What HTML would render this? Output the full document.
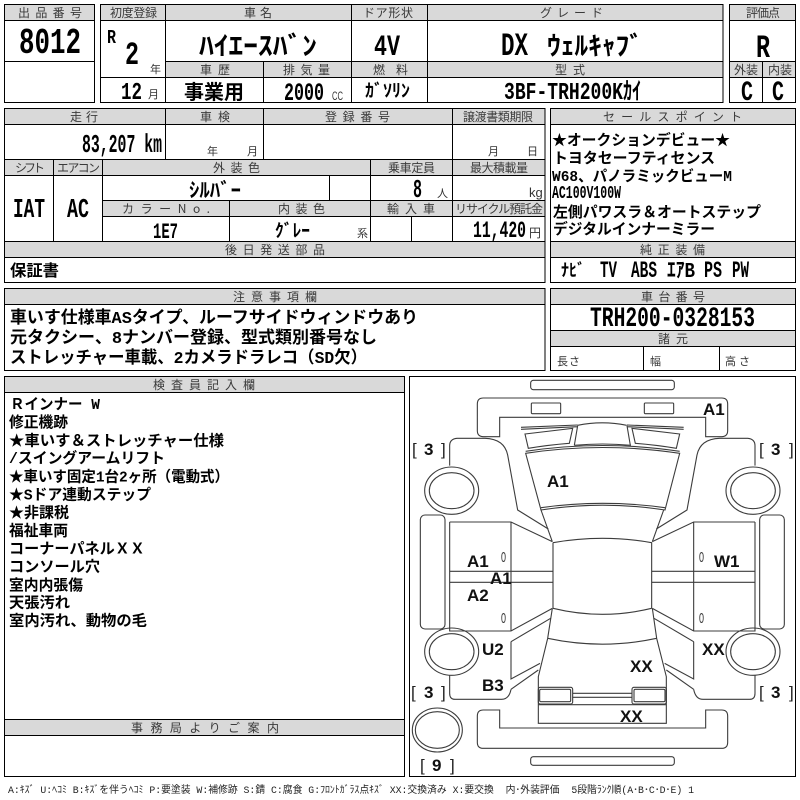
<!DOCTYPE html>
<html lang="ja"><head><meta charset="utf-8"><title>Auction sheet</title>
<style>
html,body{margin:0;padding:0;background:#fff;width:800px;height:800px;overflow:hidden}
svg{display:block}
text{white-space:pre}
.h{font:400 12px "Noto Sans CJK JP","Liberation Sans",sans-serif;fill:#3a3a3a}
.s{font:400 11px "Noto Sans CJK JP","Liberation Sans",sans-serif;fill:#333}
.v{font-family:"Liberation Mono","Noto Sans CJK JP",monospace;font-weight:700;fill:#000}
.k{font-family:"Noto Sans CJK JP","Liberation Sans",sans-serif;font-weight:700;fill:#000}
.t{font-family:"Liberation Mono","Noto Sans CJK JP",monospace;font-weight:700;fill:#000}
.d{font:700 17px "Liberation Sans",sans-serif;fill:#111}
.b{font:400 17px "Liberation Sans",sans-serif;fill:#222}
.f{font:400 10px "Liberation Mono","Noto Sans CJK JP",monospace;fill:#222}
.l{fill:none;stroke:#000;stroke-width:1;shape-rendering:crispEdges}
.g{fill:#d9d9d9;shape-rendering:crispEdges}
.c{fill:none;stroke:#3c3c3c;stroke-width:3.3}
</style></head><body>
<svg width="800" height="800" viewBox="0 0 800 800" xmlns="http://www.w3.org/2000/svg">
<rect width="800" height="800" fill="#fff"/>
<g class="g">
<rect x="5" y="5" width="89" height="15"/><rect x="101" y="5" width="622" height="15"/><rect x="730" y="5" width="65" height="15"/>
<rect x="165" y="61" width="558" height="16"/><rect x="730" y="61" width="65" height="16"/>
<rect x="5" y="109" width="540" height="15"/><rect x="5" y="159" width="540" height="16"/><rect x="551" y="109" width="244" height="15"/>
<rect x="102" y="200" width="443" height="16"/><rect x="5" y="241" width="540" height="16"/><rect x="551" y="241" width="244" height="16"/>
<rect x="5" y="289" width="540" height="15"/><rect x="551" y="289" width="244" height="15"/><rect x="551" y="330" width="244" height="16"/>
<rect x="5" y="377" width="399" height="15"/><rect x="5" y="719" width="399" height="16"/>
</g>
<g class="l">
<rect x="4.5" y="4.5" width="90" height="98"/><path d="M4.5 20.5H94.5M4.5 61.5H94.5"/>
<rect x="100.5" y="4.5" width="622.5" height="98"/>
<path d="M100.5 20.5H723M165.5 4.5V102.5M351.5 4.5V102.5M427.5 4.5V102.5M263.5 61.5V102.5M165.5 61.5H723M100.5 77.5H723"/>
<rect x="729.5" y="4.5" width="66" height="98"/><path d="M729.5 20.5H795.5M729.5 61.5H795.5M729.5 77.5H795.5M762.5 61.5V102.5"/>
<rect x="4.5" y="108.5" width="540.5" height="174"/>
<path d="M4.5 124.5H545M165.5 108.5V159.5M263.5 108.5V159.5M452.5 108.5V241.5M4.5 159.5H545M4.5 175.5H545M53.5 159.5V241.5M102.5 159.5V241.5M370.5 159.5V241.5M329.5 175.5V200.5M102.5 200.5H545M102.5 216.5H545M229.5 200.5V241.5M411.5 216.5V241.5M4.5 241.5H545M4.5 257.5H545"/>
<rect x="550.5" y="108.5" width="245" height="174"/><path d="M550.5 124.5H795.5M550.5 241.5H795.5M550.5 257.5H795.5"/>
<rect x="4.5" y="288.5" width="540.5" height="82"/><path d="M4.5 304.5H545"/>
<rect x="550.5" y="288.5" width="245" height="82"/><path d="M550.5 304.5H795.5M550.5 330.5H795.5M550.5 346.5H795.5M643.5 346.5V370.5M719.5 346.5V370.5"/>
<rect x="4.5" y="376.5" width="400" height="400"/><path d="M4.5 392.5H404.5M4.5 719.5H404.5M4.5 735.5H404.5"/>
<rect x="409.5" y="376.5" width="386" height="400"/>
</g>

<!-- headers -->
<g class="h">
<text x="18" y="17" textLength="64">出品番号</text><text x="110" y="17" textLength="47">初度登録</text><text x="244" y="17" textLength="28">車名</text>
<text x="363" y="17" textLength="50">ドア形状</text><text x="540" y="17" textLength="63">グレード</text><text x="746" y="17" textLength="34">評価点</text>
<text x="200" y="74" textLength="30">車歴</text><text x="283" y="74" textLength="47">排気量</text><text x="373" y="74" textLength="35">燃料</text><text x="555" y="74" textLength="30">型式</text>
<text x="734" y="74" textLength="24">外装</text><text x="768" y="74" textLength="24">内装</text>
<text x="70" y="121" textLength="28">走行</text><text x="200" y="121" textLength="30">車検</text><text x="325" y="121" textLength="65">登録番号</text><text x="463" y="121" textLength="70">譲渡書類期限</text><text x="603" y="121" textLength="139">セールスポイント</text>
<text x="15" y="172" textLength="30">シフト</text><text x="57" y="172" textLength="43">エアコン</text><text x="213" y="172" textLength="47">外装色</text><text x="388" y="172" textLength="47">乗車定員</text><text x="470" y="172" textLength="58">最大積載量</text>
<text x="122" y="213" textLength="88">カラーNo.</text><text x="278" y="213" textLength="47">内装色</text><text x="387" y="213" textLength="48">輸入車</text><text x="455" y="213" textLength="88">リサイクル預託金</text>
<text x="225" y="254" textLength="100">後日発送部品</text><text x="640" y="254" textLength="65">純正装備</text>
<text x="233" y="301" textLength="84">注意事項欄</text><text x="641" y="301" textLength="64">車台番号</text><text x="658" y="343" textLength="30">諸元</text>
<text x="153" y="389" textLength="102">検査員記入欄</text><text x="131" y="732" textLength="148">事務局よりご案内</text>
</g>
<g class="s">
<text x="557" y="365" textLength="23">長さ</text><text x="650" y="365">幅</text><text x="725" y="365" textLength="25">高さ</text>
<text x="150" y="73">年</text><text x="148" y="98">月</text><text x="207" y="155">年</text><text x="247" y="155">月</text><text x="488" y="155">月</text><text x="527" y="155">日</text>
<text x="437" y="197">人</text><text x="529" y="197" style="font:400 13px 'Liberation Sans',sans-serif">kg</text><text x="357" y="237">系</text><text x="529" y="237" font-size="12">円</text>
<text x="332" y="100" textLength="11" lengthAdjust="spacingAndGlyphs" style="font:400 12px 'Liberation Sans',sans-serif">CC</text>
</g>

<!-- large values -->
<g>
<text class="v" x="19" y="53" font-size="36" textLength="62" lengthAdjust="spacingAndGlyphs">8012</text>
<text class="v" x="107" y="43" font-size="19" textLength="9" lengthAdjust="spacingAndGlyphs">R</text>
<text class="v" x="125" y="64" font-size="32" textLength="14" lengthAdjust="spacingAndGlyphs">2</text>
<text class="v" x="121" y="99" font-size="24" textLength="21" lengthAdjust="spacingAndGlyphs">12</text>
<text class="k" x="199" y="55" font-size="26" textLength="118" lengthAdjust="spacingAndGlyphs">ﾊｲｴｰｽﾊﾞﾝ</text>
<text class="k" x="184" y="99" font-size="20" textLength="60" lengthAdjust="spacingAndGlyphs">事業用</text>
<text class="v" x="284" y="100" font-size="25" textLength="40" lengthAdjust="spacingAndGlyphs">2000</text>
<text class="k" x="365" y="97" font-size="18" textLength="45" lengthAdjust="spacingAndGlyphs">ｶﾞｿﾘﾝ</text>
<text class="v" x="374" y="55" font-size="30" textLength="26" lengthAdjust="spacingAndGlyphs">4V</text>
<text class="v" x="501" y="55" font-size="32" textLength="27" lengthAdjust="spacingAndGlyphs">DX</text>
<text class="k" x="547" y="55" font-size="26" textLength="96" lengthAdjust="spacingAndGlyphs">ｳｪﾙｷｬﾌﾞ</text>
<text class="v" x="756" y="57" font-size="32" textLength="14" lengthAdjust="spacingAndGlyphs">R</text>
<text class="v" x="504" y="99" font-size="24" textLength="137" lengthAdjust="spacingAndGlyphs">3BF-TRH200Kｶｲ</text>
<text class="v" x="741" y="100" font-size="28" textLength="12" lengthAdjust="spacingAndGlyphs">C</text>
<text class="v" x="772" y="100" font-size="28" textLength="12" lengthAdjust="spacingAndGlyphs">C</text>
<text class="v" x="82" y="152" font-size="26" textLength="80" lengthAdjust="spacingAndGlyphs">83,207 km</text>
<text class="k" x="189" y="197" font-size="20" textLength="52" lengthAdjust="spacingAndGlyphs">ｼﾙﾊﾞｰ</text>
<text class="v" x="413" y="197" font-size="26" textLength="9" lengthAdjust="spacingAndGlyphs">8</text>
<text class="v" x="13" y="217" font-size="27" textLength="32" lengthAdjust="spacingAndGlyphs">IAT</text>
<text class="v" x="67" y="217" font-size="27" textLength="22" lengthAdjust="spacingAndGlyphs">AC</text>
<text class="v" x="153" y="238" font-size="22" textLength="25" lengthAdjust="spacingAndGlyphs">1E7</text>
<text class="k" x="275" y="237" font-size="18" textLength="35" lengthAdjust="spacingAndGlyphs">ｸﾞﾚｰ</text>
<text class="v" x="473" y="237" font-size="23" textLength="53" lengthAdjust="spacingAndGlyphs">11,420</text>
<text class="k" x="10" y="276" font-size="16" textLength="49" lengthAdjust="spacingAndGlyphs" font-weight="500">保証書</text>
<text class="v" x="590" y="326" font-size="28" textLength="165" lengthAdjust="spacingAndGlyphs">TRH200-0328153</text>
<text class="k" x="561" y="276" font-size="17" textLength="24" lengthAdjust="spacingAndGlyphs">ﾅﾋﾞ</text>
<text class="v" x="600" y="277" font-size="23" textLength="17" lengthAdjust="spacingAndGlyphs">TV</text>
<text class="v" x="631" y="277" font-size="23" textLength="26" lengthAdjust="spacingAndGlyphs">ABS</text>
<text class="v" x="667" y="277" font-size="21" textLength="28" lengthAdjust="spacingAndGlyphs">ｴｱB</text>
<text class="v" x="704" y="277" font-size="23" textLength="18" lengthAdjust="spacingAndGlyphs">PS</text>
<text class="v" x="732" y="277" font-size="23" textLength="17" lengthAdjust="spacingAndGlyphs">PW</text>
</g>

<!-- notes -->
<g class="t" font-size="17">
<text x="10" y="323" textLength="408" lengthAdjust="spacingAndGlyphs">車いす仕様車ASタイプ、ルーフサイドウィンドウあり</text>
<text x="10" y="343" textLength="367" lengthAdjust="spacingAndGlyphs">元タクシー、8ナンバー登録、型式類別番号なし</text>
<text x="10" y="363" textLength="357" lengthAdjust="spacingAndGlyphs">ストレッチャー車載、2カメラドラレコ（SD欠）</text>
</g>
<g class="t" font-size="15">
<text x="552" y="145" textLength="178" lengthAdjust="spacingAndGlyphs">★オークションデビュー★</text>
<text x="553" y="163" textLength="162" lengthAdjust="spacingAndGlyphs">トヨタセーフティセンス</text>
<text x="552" y="181" textLength="180" lengthAdjust="spacingAndGlyphs">W68、パノラミックビューM</text>
<text x="552" y="198" font-size="18" textLength="69" lengthAdjust="spacingAndGlyphs">AC100V100W</text>
<text x="553" y="217" textLength="208" lengthAdjust="spacingAndGlyphs">左側パワスラ＆オートステップ</text>
<text x="553" y="234" textLength="162" lengthAdjust="spacingAndGlyphs">デジタルインナーミラー</text>
</g>
<g class="t" font-size="15">
<text x="10" y="409" textLength="90" lengthAdjust="spacingAndGlyphs">Ｒインナー W</text>
<text x="9" y="427" textLength="59" lengthAdjust="spacingAndGlyphs">修正機跡</text>
<text x="9" y="445.5" textLength="215" lengthAdjust="spacingAndGlyphs">★車いす＆ストレッチャー仕様</text>
<text x="9" y="463" textLength="156" lengthAdjust="spacingAndGlyphs">/スイングアームリフト</text>
<text x="9" y="481.5" textLength="220" lengthAdjust="spacingAndGlyphs">★車いす固定1台2ヶ所（電動式）</text>
<text x="9" y="499.5" textLength="142" lengthAdjust="spacingAndGlyphs">★Sドア連動ステップ</text>
<text x="9" y="517.5" textLength="60" lengthAdjust="spacingAndGlyphs">★非課税</text>
<text x="9" y="535.5" textLength="59" lengthAdjust="spacingAndGlyphs">福祉車両</text>
<text x="9" y="553.5" textLength="136" lengthAdjust="spacingAndGlyphs">コーナーパネルＸＸ</text>
<text x="9" y="571.5" textLength="91" lengthAdjust="spacingAndGlyphs">コンソール穴</text>
<text x="9" y="590" textLength="74" lengthAdjust="spacingAndGlyphs">室内内張傷</text>
<text x="9" y="607.5" textLength="61" lengthAdjust="spacingAndGlyphs">天張汚れ</text>
<text x="9" y="625.5" textLength="138" lengthAdjust="spacingAndGlyphs">室内汚れ、動物の毛</text>
</g>
<text class="f" x="8" y="793" textLength="686" lengthAdjust="spacingAndGlyphs">A:ｷｽﾞ U:ﾍｺﾐ B:ｷｽﾞを伴うﾍｺﾐ P:要塗装 W:補修跡 S:錆 C:腐食 G:ﾌﾛﾝﾄｶﾞﾗｽ点ｷｽﾞ XX:交換済み X:要交換  内･外装評価  5段階ﾗﾝｸ順(A･B･C･D･E) 1</text>

<!-- car diagram -->
<g transform="translate(405 375) scale(.33333)">
<defs>
<g id="h">
<path class="c" d="M134 272V212Q134 192 156 190H240Q298 192 308 240L338 405L430 462"/>
<path class="c" d="M408 405L442 500M134 441H318L442 500M318 441V768M134 441V768H318L442 700M134 589H444M134 622H444"/>
<path class="c" d="M318 800L437 730M318 800V912L405 865M318 943L400 885M134 900V955Q134 973 150 973H290Q312 973 318 943"/>
<rect class="c" x="46" y="420" width="74" height="342" rx="14"/>
<ellipse class="c" cx="140" cy="347" rx="81" ry="71"/><ellipse class="c" cx="140" cy="347" rx="67" ry="54"/>
<ellipse class="c" cx="140" cy="830" rx="81" ry="71"/><ellipse class="c" cx="140" cy="830" rx="67" ry="54"/>
<path class="c" d="M360 177L503 160L493 205Q430 210 370 220Z"/>
<path class="c" d="M508 211L518 152M348 157L518 150M348 163L518 155"/>
<rect class="c" x="400" y="937" width="103" height="50" rx="6"/><rect class="c" x="404" y="943" width="93" height="37" rx="4"/>
</g>
</defs>
<use href="#h"/><use href="#h" transform="matrix(-1 0 0 1 1184 0)"/>
<rect class="c" x="377" y="16" width="431" height="28" rx="8"/>
<path class="c" d="M284 185H235Q217 185 217 167V87Q217 69 235 69H950Q968 69 968 87V167Q968 185 950 185H902V127H284Z"/>
<rect class="c" x="379" y="84" width="88" height="32" rx="3"/><rect class="c" x="718" y="84" width="88" height="32" rx="3"/>
<path class="c" d="M518 151Q592 136 665 151M508 211Q592 203 678 211"/>
<path class="c" d="M362 235Q592 200 824 235L780 405Q592 376 408 405Z"/>
<path class="c" d="M362 229Q592 194 824 229M408 398Q592 372 780 398"/>
<path class="c" d="M444 503Q592 477 740 503V700M444 503V700M444 700Q592 736 740 700"/>
<path class="c" d="M442 700L428 790L400 905V1045H784V905L755 790L742 700M428 790Q592 825 755 790"/>
<path class="c" d="M503 955H682M503 967H682M400 989H784"/>
<path class="c" d="M284 1005V1059H902V1005H950Q968 1005 968 1023V1102Q968 1120 950 1120H235Q217 1120 217 1102V1023Q217 1005 235 1005Z"/>
<rect class="c" x="377" y="1145" width="431" height="26" rx="8"/>
<ellipse class="c" cx="97" cy="1065" rx="75" ry="66"/><ellipse class="c" cx="97" cy="1065" rx="66" ry="55"/>
</g>
<g class="d">
<text x="703" y="415">A1</text><text x="547" y="487">A1</text><text x="467" y="567">A1</text><text x="490" y="584">A1</text><text x="714" y="567">W1</text>
<text x="467" y="601">A2</text><text x="482" y="655">U2</text><text x="702" y="655">XX</text><text x="630" y="672">XX</text><text x="482" y="691">B3</text><text x="620" y="722">XX</text>
<text x="412" y="455" class="b">[</text><text x="424" y="455">3</text><text x="441" y="455" class="b">]</text>
<text x="759" y="455" class="b">[</text><text x="771" y="455">3</text><text x="789" y="455" class="b">]</text>
<text x="411" y="698" class="b">[</text><text x="424" y="698">3</text><text x="441" y="698" class="b">]</text>
<text x="759" y="698" class="b">[</text><text x="771" y="698">3</text><text x="789" y="698" class="b">]</text>
<text x="420" y="771" class="b">[</text><text x="432" y="771">9</text><text x="450" y="771" class="b">]</text>
</g>
<g font-family="Liberation Sans,sans-serif" font-size="15" fill="#333">
<text x="501" y="562" textLength="5" lengthAdjust="spacingAndGlyphs">0</text><text x="699" y="562" textLength="5" lengthAdjust="spacingAndGlyphs">0</text>
<text x="501" y="623" textLength="5" lengthAdjust="spacingAndGlyphs">0</text><text x="699" y="623" textLength="5" lengthAdjust="spacingAndGlyphs">0</text>
</g>
</svg>
</body></html>
